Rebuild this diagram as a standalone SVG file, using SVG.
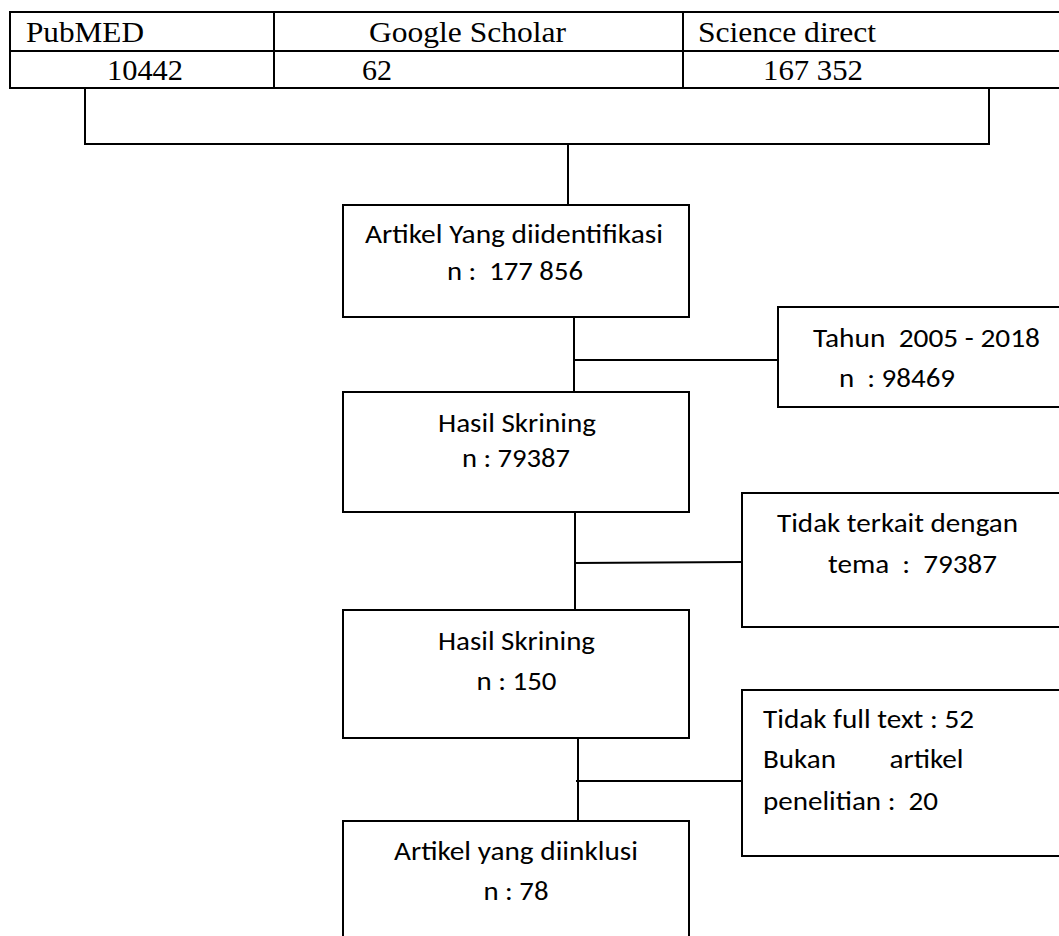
<svg xmlns="http://www.w3.org/2000/svg" width="1059" height="936" viewBox="0 0 1059 936">
<style>
.ln{stroke:#000;stroke-width:2;fill:none}
.bx{stroke:#000;stroke-width:2;fill:#fff}
.serif{font-family:"Liberation Serif","Times New Roman",serif;font-size:29.5px;fill:#000}
.sans{font-family:Carlito,"Liberation Sans",Arial,sans-serif;font-size:26px;fill:#000}
</style>
<rect width="1059" height="936" fill="#fff"/>
<g id="table">
<rect class="bx" x="10" y="12" width="1060" height="76"/>
<line class="ln" x1="10" y1="51" x2="1060" y2="51"/>
<line class="ln" x1="274" y1="12" x2="274" y2="88"/>
<line class="ln" x1="683" y1="12" x2="683" y2="88"/>
<text class="serif" x="26" y="42" textLength="118" lengthAdjust="spacingAndGlyphs">PubMED</text>
<text class="serif" x="369" y="42" textLength="197" lengthAdjust="spacingAndGlyphs">Google Scholar</text>
<text class="serif" x="698" y="42" textLength="178" lengthAdjust="spacingAndGlyphs">Science direct</text>
<text class="serif" x="107" y="80" textLength="76" lengthAdjust="spacingAndGlyphs">10442</text>
<text class="serif" x="362" y="80" textLength="30" lengthAdjust="spacingAndGlyphs">62</text>
<text class="serif" x="763" y="80" textLength="100" lengthAdjust="spacingAndGlyphs">167 352</text>
</g>
<g id="connectors">
<path class="ln" d="M85,88 V144 H989 V88"/>
<path class="ln" d="M568,144 V205"/>
<path class="ln" d="M574,317 V392"/>
<path class="ln" d="M575,360 H778"/>
<path class="ln" d="M575,512 V610"/>
<path class="ln" d="M575,563 L742,562"/>
<path class="ln" d="M578,738 V821"/>
<path class="ln" d="M576,781 H742"/>
</g>
<g id="identified">
<rect class="bx" x="343" y="205" width="346" height="112"/>
<text class="sans" x="365" y="243" textLength="298" lengthAdjust="spacingAndGlyphs">Artikel Yang diidentifikasi</text>
<text class="sans" x="447" y="280" textLength="136" lengthAdjust="spacingAndGlyphs" xml:space="preserve">n :  177 856</text>
</g>
<g id="tahun">
<rect class="bx" x="778" y="307" width="300" height="100"/>
<text class="sans" x="813" y="347" textLength="227" lengthAdjust="spacingAndGlyphs" xml:space="preserve">Tahun  2005 - 2018</text>
<text class="sans" x="839" y="387" textLength="116" lengthAdjust="spacingAndGlyphs" xml:space="preserve">n  : 98469</text>
</g>
<g id="screening1">
<rect class="bx" x="343" y="392" width="346" height="120"/>
<text class="sans" x="438" y="432" textLength="158" lengthAdjust="spacingAndGlyphs">Hasil Skrining</text>
<text class="sans" x="462" y="467" textLength="108" lengthAdjust="spacingAndGlyphs">n : 79387</text>
</g>
<g id="notrelated">
<rect class="bx" x="742" y="493" width="340" height="134"/>
<text class="sans" x="777" y="532" textLength="241" lengthAdjust="spacingAndGlyphs">Tidak terkait dengan</text>
<text class="sans" x="828" y="573" textLength="169" lengthAdjust="spacingAndGlyphs" xml:space="preserve">tema  :  79387</text>
</g>
<g id="screening2">
<rect class="bx" x="343" y="610" width="346" height="128"/>
<text class="sans" x="438" y="650" textLength="157" lengthAdjust="spacingAndGlyphs">Hasil Skrining</text>
<text class="sans" x="476.5" y="690" textLength="80" lengthAdjust="spacingAndGlyphs">n : 150</text>
</g>
<g id="excluded">
<rect class="bx" x="742" y="690" width="340" height="166"/>
<text class="sans" x="763" y="728" textLength="211" lengthAdjust="spacingAndGlyphs">Tidak full text : 52</text>
<text class="sans" y="768"><tspan x="763" textLength="73" lengthAdjust="spacingAndGlyphs">Bukan</tspan><tspan x="889.5" textLength="74" lengthAdjust="spacingAndGlyphs">artikel</tspan></text>
<text class="sans" x="763" y="810" textLength="175" lengthAdjust="spacingAndGlyphs" xml:space="preserve">penelitian :  20</text>
</g>
<g id="included">
<rect class="bx" x="343" y="821" width="346" height="130"/>
<text class="sans" x="394" y="860" textLength="244" lengthAdjust="spacingAndGlyphs">Artikel yang diinklusi</text>
<text class="sans" x="483.5" y="900" textLength="65" lengthAdjust="spacingAndGlyphs">n : 78</text>
</g>
</svg>
